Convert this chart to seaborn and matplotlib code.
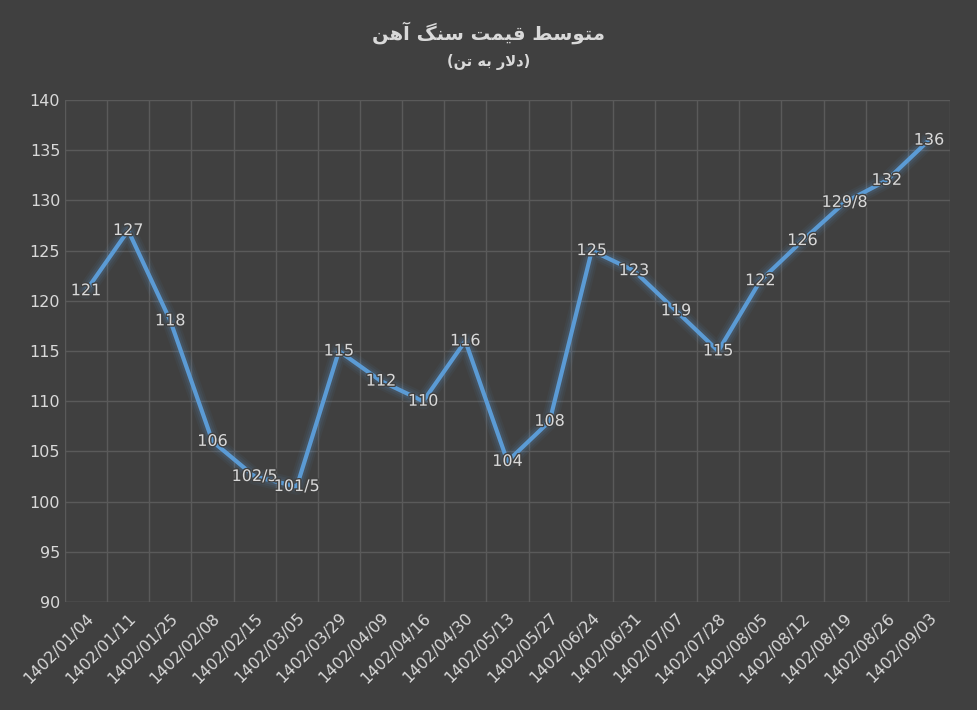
import matplotlib
matplotlib.use("Agg")
import matplotlib.pyplot as plt
import seaborn as sns
import pandas as pd
import matplotlib.patheffects as pe

dates = ["1402/01/04","1402/01/11","1402/01/25","1402/02/08","1402/02/15","1402/03/05",
         "1402/03/29","1402/04/09","1402/04/16","1402/04/30","1402/05/13","1402/05/27",
         "1402/06/24","1402/06/31","1402/07/07","1402/07/28","1402/08/05","1402/08/12",
         "1402/08/19","1402/08/26","1402/09/03"]
prices = [121,127,118,106,102.5,101.5,115,112,110,116,104,108,125,123,119,115,122,126,129.8,132,136]
labels = ["121","127","118","106","102/5","101/5","115","112","110","116","104","108",
          "125","123","119","115","122","126","129/8","132","136"]
title = "متوسط قیمت سنگ آهن"
subtitle = "دلار به تن"

FORMS = {
 'م':(0xFEE1,0xFEE2,0xFEE3,0xFEE4),'ت':(0xFE95,0xFE96,0xFE97,0xFE98),
 'و':(0xFEED,0xFEEE,None,None),'س':(0xFEB1,0xFEB2,0xFEB3,0xFEB4),
 'ط':(0xFEC1,0xFEC2,0xFEC3,0xFEC4),'ق':(0xFED5,0xFED6,0xFED7,0xFED8),
 'ی':(0xFBFC,0xFBFD,0xFBFE,0xFBFF),'ن':(0xFEE5,0xFEE6,0xFEE7,0xFEE8),
 'گ':(0xFB92,0xFB93,0xFB94,0xFB95),'آ':(0xFE81,0xFE82,None,None),
 'ه':(0xFEE9,0xFEEA,0xFEEB,0xFEEC),'د':(0xFEA9,0xFEAA,None,None),
 'ل':(0xFEDD,0xFEDE,0xFEDF,0xFEE0),'ا':(0xFE8D,0xFE8E,None,None),
 'ر':(0xFEAD,0xFEAE,None,None),'ب':(0xFE8F,0xFE90,0xFE91,0xFE92),
}
def shape_word(w):
    out=[]; i=0; prev_joins=False
    while i < len(w):
        c=w[i]
        if c=='ل' and i+1<len(w) and w[i+1]=='ا':
            out.append(chr(0xFEFC if prev_joins else 0xFEFB)); prev_joins=False; i+=2; continue
        f=FORMS[c]
        nxt = i+1<len(w)
        can_left = f[2] is not None
        if prev_joins and can_left and nxt: ch=f[3]
        elif prev_joins: ch=f[1]
        elif can_left and nxt: ch=f[2]
        else: ch=f[0]
        out.append(chr(ch)); prev_joins = can_left
        i+=1
    return ''.join(out)[::-1]
def shape(s):
    return ' '.join(shape_word(w) for w in s.split(' ')[::-1])

bg = "#404040"; txt = "#d9d9d9"; blue = "#5b9bd5"
sns.set_theme(style="dark")
plt.rcParams['font.family'] = ['DejaVu Sans']
fig = plt.figure(figsize=(9.77,7.10), dpi=100, facecolor=bg)
ax = fig.add_axes([65/977, 1-602/710, (950-65)/977, (602-100)/710])
ax.set_facecolor(bg)
df = pd.DataFrame({"x": list(range(len(dates))), "y": prices})
for lw, a in [(12,0.06),(9,0.08),(6,0.12)]:
    sns.lineplot(data=df, x="x", y="y", ax=ax, color=blue, lw=lw, alpha=a, sort=False, legend=False)
sns.lineplot(data=df, x="x", y="y", ax=ax, color=blue, lw=3, sort=False, legend=False)
for i,(v,l) in enumerate(zip(prices,labels)):
    ax.text(i, v, l, ha="center", va="center", color=txt, fontsize=11.5,
            path_effects=[pe.withStroke(linewidth=2, foreground=bg)])
ax.set_xlim(-0.5, len(dates)-0.5)
ax.set_ylim(90,140)
ax.set_yticks(range(90,141,5))
ax.set_xticks([i-0.5 for i in range(len(dates)+1)], minor=False)
ax.set_xticklabels([])
ax.set_xticks(range(len(dates)), minor=True)
ax.set_xticklabels(dates, minor=True, rotation=45, ha="right", rotation_mode="anchor", color=txt, fontsize=11.5)
ax.tick_params(axis="x", which="both", length=0, pad=6)
ax.tick_params(axis="y", colors=txt, labelsize=11.5, length=0)
ax.grid(True, axis="both", which="major", color="#5a5a5a", lw=1)
ax.set_xlabel(""); ax.set_ylabel("")
for s in ax.spines.values(): s.set_visible(False)
ax.axhline(90, color="#5a5a5a", lw=1)
fig.text(0.5, 1-33/710, shape(title), ha="center", va="center", color=txt, fontsize=14, fontweight="bold")
fig.text(0.5, 1-62/710, "(" + shape(subtitle) + ")", ha="center", va="center", color=txt, fontsize=10.5, fontweight="bold")
fig.savefig("out.png", dpi=100, facecolor=bg)
